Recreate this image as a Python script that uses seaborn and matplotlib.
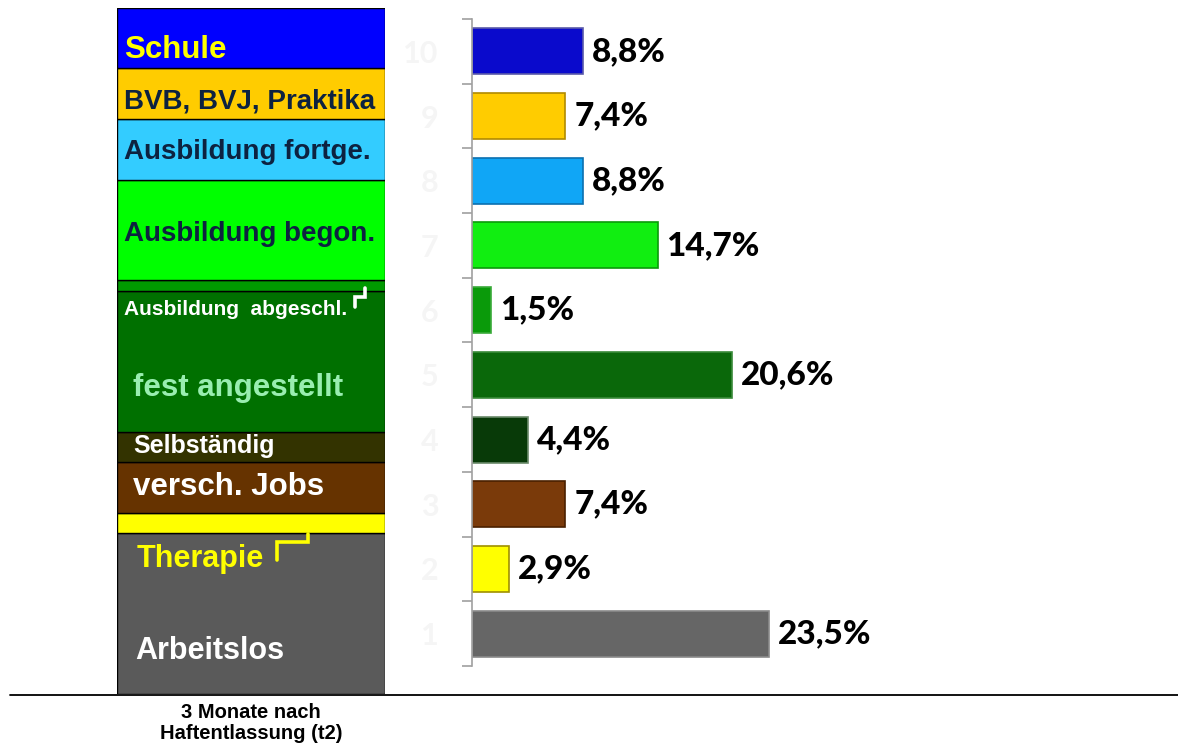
import numpy as np
import pandas as pd
import matplotlib
matplotlib.use("Agg")
import matplotlib.pyplot as plt
import matplotlib.transforms as mtransforms
from matplotlib.lines import Line2D
import seaborn as sns

# ---------------- data ----------------
ranks = ["1", "2", "3", "4", "5", "6", "7", "8", "9", "10"]
values = [23.5, 2.9, 7.4, 4.4, 20.6, 1.5, 14.7, 8.8, 7.4, 8.8]
value_labels = ["23,5%", "2,9%", "7,4%", "4,4%", "20,6%", "1,5%", "14,7%", "8,8%", "7,4%", "8,8%"]
segment_names = ["Arbeitslos", "Therapie", "versch. Jobs", "Selbständig", "fest angestellt",
                 "Ausbildung  abgeschl.", "Ausbildung begon.", "Ausbildung fortge.",
                 "BVB, BVJ, Praktika", "Schule"]
caption = "3 Monate nach\nHaftentlassung (t2)"

# ---------------- styles ----------------
seg_colors = ["#5A5A5A", "#FFFF00", "#663300", "#333300", "#007000",
              "#009900", "#00FF00", "#33CCFF", "#FFCC00", "#0000FF"]
bar_colors = ["#666666", "#FFFF00", "#7A3A0A", "#083A08", "#0A680A",
              "#0A9A0A", "#11EE11", "#10A6F6", "#FFCC00", "#0A0ACC"]
bar_edges = ["#8a8a8a", "#a09000", "#4a2000", "#6a8a6a", "#3a8a3a",
             "#3aaa3a", "#0a9a0a", "#0a70b0", "#b08a00", "#5a5aaa"]
label_colors = ["white", "#FFFF00", "white", "white", "#99EEB0",
                "white", "#0D2240", "#0D2240", "#0D2240", "#FFFF00"]
label_sizes = [22, 22, 22.5, 18, 22.5, 15, 20, 20, 20, 22.5]
label_xpx = [135, 137, 133, 133, 133, 124, 124, 124, 124, 124]
label_baseline_px = [659, 567, 495, 453, 396, 315, 241, 159, 108, 58]

sns.set_theme(style="white")
plt.rcParams["font.family"] = ["Liberation Sans", "DejaVu Sans"]

W, H = 1178, 747
fig = plt.figure(figsize=(W / 100, H / 100), dpi=100)

# ---------------- left stacked column ----------------
lx0, lx1, ly_top, ly_bot = 117, 385, 8, 694
axL = fig.add_axes([lx0 / W, (H - ly_bot) / H, (lx1 - lx0) / W, (ly_bot - ly_top) / H])
vals = np.array(values)
bottoms = np.concatenate([[0], np.cumsum(vals)[:-1]])
axL.bar([0] * len(vals), vals, bottom=bottoms, width=1.0, align="center",
        color=seg_colors, edgecolor="black", linewidth=1.0)
axL.set_xlim(-0.5, 0.5)
axL.set_ylim(0, vals.sum())
axL.axis("off")

scale = (ly_bot - ly_top) / vals.sum()
blend = mtransforms.blended_transform_factory(axL.transAxes, axL.transData)
for name, col, fs, xp, bp in zip(segment_names, label_colors, label_sizes, label_xpx, label_baseline_px):
    axL.text((xp - lx0) / (lx1 - lx0), (ly_bot - bp) / scale, name, transform=blend,
             color=col, fontsize=fs, fontweight="bold", ha="left", va="baseline")

def px_to(xpx, ypx):
    return (xpx - lx0) / (lx1 - lx0), (ly_bot - ypx) / scale

# connector for "Ausbildung abgeschl."
pts = [px_to(364.5, 288), px_to(364.5, 296.5), px_to(355, 296.5), px_to(355, 307)]
axL.plot([p[0] for p in pts], [p[1] for p in pts], color="white", lw=2.6,
         transform=blend, solid_joinstyle="miter", clip_on=False)
# connector for "Therapie"
pts = [px_to(308, 534), px_to(308, 541.5), px_to(277, 541.5), px_to(277, 560)]
axL.plot([p[0] for p in pts], [p[1] for p in pts], color="#FFFF00", lw=2.6,
         transform=blend, solid_joinstyle="miter", clip_on=False)

# ---------------- right bar chart ----------------
rx0, ry_top, ry_bot = 472, 19, 666
px_per_unit = 12.62
axR = fig.add_axes([rx0 / W, (H - ry_bot) / H, (W - rx0) / W, (ry_bot - ry_top) / H])
df = pd.DataFrame({"rank": ranks, "value": values})
order = ranks[::-1]
sns.barplot(data=df, y="rank", x="value", order=order, orient="h", ax=axR,
            width=0.71, hue="rank", hue_order=ranks, palette=bar_colors, legend=False,
            linewidth=1.2, saturation=1)
rank_to_edge = dict(zip(ranks, bar_edges))
for cont, r in zip(axR.containers, ranks):
    for p in cont:
        p.set_edgecolor(rank_to_edge[r])
axR.set_xlim(0, (W - rx0) / px_per_unit)
axR.set_ylim(len(ranks) - 0.5, -0.5)
axR.set_xlabel("")
axR.set_ylabel("")
axR.set_xticks([])

rank_to_label = dict(zip(ranks, value_labels))
rank_to_val = dict(zip(ranks, values))
for i, r in enumerate(order):
    axR.annotate(rank_to_label[r], xy=(rank_to_val[r], i), xytext=(6.5, 0),
                 textcoords="offset points", ha="left", va="center",
                 fontsize=24, fontweight="black", color="black", family=["Lato", "DejaVu Sans"])

for s in ["top", "right", "bottom"]:
    axR.spines[s].set_visible(False)
axR.spines["left"].set_color("#A0A0A0")
axR.spines["left"].set_linewidth(1.2)
axR.tick_params(axis="y", which="major", length=0, pad=24, labelsize=22,
                labelcolor="#F5F5F5")
for lab in axR.get_yticklabels():
    lab.set_fontweight("bold")
    lab.set_family(["Lato", "DejaVu Sans"])
axR.set_yticks(np.arange(-0.5, len(ranks)), minor=True)
axR.tick_params(axis="y", which="minor", length=7.5, width=1.2, color="#A0A0A0", left=True)

# ---------------- baseline + caption ----------------
fig.add_artist(Line2D([10 / W, 1.0], [(H - 695) / H] * 2, color="black", lw=1.3,
                      transform=fig.transFigure))
fig.text(251 / W, (H - 723) / H, caption, ha="center", va="center",
         fontsize=14.5, fontweight="bold", linespacing=1.1, color="black")

fig.savefig("out.png", dpi=100, facecolor="white")
